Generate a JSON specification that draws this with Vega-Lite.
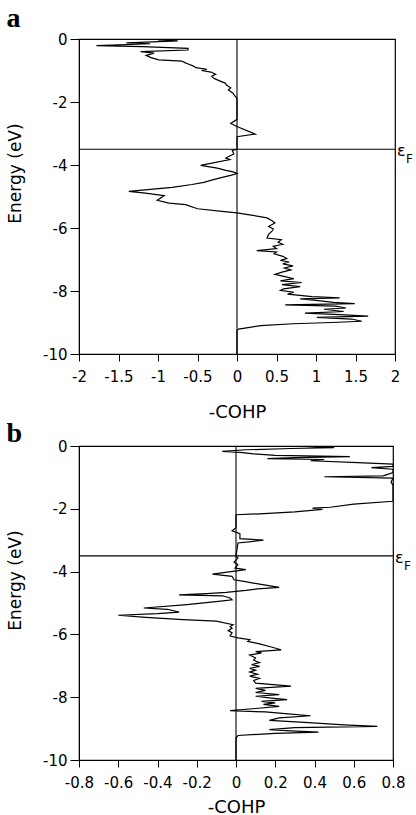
{
  "$schema": "https://vega.github.io/schema/vega-lite/v6.json",
  "padding": {"left": 5, "top": 4, "right": 2, "bottom": 0},
  "background": "white",
  "spacing": -3,
  "config": {
    "view": {"stroke": "black", "strokeWidth": 1.2, "fill": "white"},
    "axis": {
      "grid": false,
      "domainColor": "black",
      "tickColor": "black",
      "labelColor": "black",
      "titleColor": "black",
      "labelFont": "DejaVu Sans",
      "labelFontSize": 15,
      "titleFont": "DejaVu Sans",
      "titleFontWeight": "normal",
      "labelOverlap": false,
      "labelFlush": false,
      "format": ".2~f",
      "labelExpr": "replace(datum.label, '−', '-')"
    },
    "axisX": {"tickSize": 7, "labelPadding": 8, "titleFontSize": 18},
    "axisY": {"tickSize": 9, "labelPadding": 3, "titleFontSize": 17, "titleY": 134},
    "title": {"font": "Liberation Serif", "fontSize": 28, "fontWeight": "bold", "color": "black", "anchor": "start", "frame": "bounds"}
  },
  "datasets": {
    "a": [
      {"E": 0, "c": -0.7}, {"E": -0.03, "c": -1.0}, {"E": -0.06, "c": -0.75}, {"E": -0.12, "c": -1.4},
      {"E": -0.15, "c": -1.1}, {"E": -0.21, "c": -1.78}, {"E": -0.24, "c": -1.2}, {"E": -0.3, "c": -0.62},
      {"E": -0.35, "c": -0.62}, {"E": -0.4, "c": -1.22}, {"E": -0.45, "c": -1.05}, {"E": -0.52, "c": -1.15},
      {"E": -0.59, "c": -1.09}, {"E": -0.66, "c": -0.99}, {"E": -0.7, "c": -0.7}, {"E": -0.75, "c": -0.66},
      {"E": -0.8, "c": -0.61}, {"E": -0.86, "c": -0.55}, {"E": -0.91, "c": -0.52}, {"E": -0.96, "c": -0.38},
      {"E": -1.0, "c": -0.45}, {"E": -1.05, "c": -0.33}, {"E": -1.12, "c": -0.27}, {"E": -1.18, "c": -0.32},
      {"E": -1.25, "c": -0.29}, {"E": -1.33, "c": -0.22}, {"E": -1.4, "c": -0.15}, {"E": -1.47, "c": -0.13},
      {"E": -1.55, "c": -0.08}, {"E": -1.62, "c": -0.11}, {"E": -1.72, "c": -0.05}, {"E": -1.8, "c": -0.03},
      {"E": -1.88, "c": 0}, {"E": -2.0, "c": 0}, {"E": -2.3, "c": 0}, {"E": -2.55, "c": 0},
      {"E": -2.68, "c": -0.08}, {"E": -2.78, "c": 0}, {"E": -3.02, "c": 0.23}, {"E": -3.1, "c": 0},
      {"E": -3.5, "c": 0}, {"E": -3.54, "c": -0.06}, {"E": -3.65, "c": -0.04}, {"E": -3.72, "c": -0.1},
      {"E": -3.78, "c": -0.14}, {"E": -3.83, "c": -0.09}, {"E": -4.01, "c": -0.46}, {"E": -4.1, "c": -0.25},
      {"E": -4.17, "c": -0.14}, {"E": -4.22, "c": -0.05}, {"E": -4.27, "c": 0}, {"E": -4.33, "c": -0.08},
      {"E": -4.4, "c": -0.2}, {"E": -4.47, "c": -0.31}, {"E": -4.55, "c": -0.42}, {"E": -4.62, "c": -0.57},
      {"E": -4.71, "c": -0.82}, {"E": -4.84, "c": -1.37}, {"E": -4.89, "c": -1.16}, {"E": -4.97, "c": -0.92},
      {"E": -5.12, "c": -1.01}, {"E": -5.21, "c": -0.86}, {"E": -5.26, "c": -0.65}, {"E": -5.39, "c": -0.5},
      {"E": -5.47, "c": -0.19}, {"E": -5.52, "c": 0}, {"E": -5.6, "c": 0.2}, {"E": -5.68, "c": 0.38},
      {"E": -5.76, "c": 0.44}, {"E": -5.84, "c": 0.48}, {"E": -5.95, "c": 0.4}, {"E": -6.03, "c": 0.46},
      {"E": -6.11, "c": 0.44}, {"E": -6.2, "c": 0.4}, {"E": -6.32, "c": 0.38}, {"E": -6.37, "c": 0.56},
      {"E": -6.45, "c": 0.52}, {"E": -6.52, "c": 0.58}, {"E": -6.58, "c": 0.46}, {"E": -6.65, "c": 0.5},
      {"E": -6.72, "c": 0.25}, {"E": -6.76, "c": 0.5}, {"E": -6.82, "c": 0.47}, {"E": -6.9, "c": 0.58},
      {"E": -6.97, "c": 0.63}, {"E": -7.03, "c": 0.55}, {"E": -7.08, "c": 0.66}, {"E": -7.14, "c": 0.58},
      {"E": -7.2, "c": 0.71}, {"E": -7.27, "c": 0.6}, {"E": -7.33, "c": 0.68}, {"E": -7.4, "c": 0.57},
      {"E": -7.47, "c": 0.48}, {"E": -7.55, "c": 0.62}, {"E": -7.61, "c": 0.72}, {"E": -7.68, "c": 0.55},
      {"E": -7.73, "c": 0.82}, {"E": -7.8, "c": 0.57}, {"E": -7.86, "c": 0.8}, {"E": -7.93, "c": 0.59},
      {"E": -7.98, "c": 0.55}, {"E": -8.04, "c": 0.72}, {"E": -8.1, "c": 0.64}, {"E": -8.18, "c": 0.95},
      {"E": -8.22, "c": 1.3}, {"E": -8.25, "c": 0.8}, {"E": -8.3, "c": 1.0}, {"E": -8.36, "c": 1.22},
      {"E": -8.4, "c": 1.49}, {"E": -8.44, "c": 0.61}, {"E": -8.48, "c": 1.25}, {"E": -8.54, "c": 1.38},
      {"E": -8.58, "c": 1.1}, {"E": -8.65, "c": 1.35}, {"E": -8.7, "c": 0.86}, {"E": -8.75, "c": 1.3},
      {"E": -8.8, "c": 1.66}, {"E": -8.84, "c": 1.01}, {"E": -8.89, "c": 1.45}, {"E": -8.96, "c": 1.58},
      {"E": -9.0, "c": 1.2}, {"E": -9.04, "c": 0.71}, {"E": -9.1, "c": 0.3}, {"E": -9.21, "c": 0.02},
      {"E": -9.25, "c": 0}, {"E": -10, "c": 0}
    ],
    "b": [
      {"E": 0, "c": 0.3}, {"E": -0.05, "c": 0.5}, {"E": -0.08, "c": 0.28}, {"E": -0.12, "c": 0.05},
      {"E": -0.17, "c": -0.07}, {"E": -0.2, "c": 0.02}, {"E": -0.25, "c": 0.09}, {"E": -0.3, "c": 0.2},
      {"E": -0.34, "c": 0.58}, {"E": -0.37, "c": 0.3}, {"E": -0.4, "c": 0.16}, {"E": -0.43, "c": 0.45},
      {"E": -0.47, "c": 0.38}, {"E": -0.53, "c": 0.62}, {"E": -0.58, "c": 0.8}, {"E": -0.65, "c": 0.8},
      {"E": -0.69, "c": 0.69}, {"E": -0.74, "c": 0.8}, {"E": -0.85, "c": 0.8}, {"E": -0.95, "c": 0.75},
      {"E": -0.98, "c": 0.45}, {"E": -1.02, "c": 0.8}, {"E": -1.15, "c": 0.79}, {"E": -1.25, "c": 0.8},
      {"E": -1.76, "c": 0.8}, {"E": -1.85, "c": 0.6}, {"E": -1.95, "c": 0.48}, {"E": -1.98, "c": 0.39},
      {"E": -2.02, "c": 0.44}, {"E": -2.1, "c": 0.3}, {"E": -2.16, "c": 0.12}, {"E": -2.19, "c": 0},
      {"E": -2.6, "c": 0}, {"E": -2.7, "c": -0.02}, {"E": -2.79, "c": 0.02}, {"E": -2.95, "c": 0.02},
      {"E": -3.0, "c": 0.14}, {"E": -3.09, "c": 0.01}, {"E": -3.5, "c": 0}, {"E": -3.57, "c": 0.01},
      {"E": -3.7, "c": -0.01}, {"E": -3.78, "c": 0.01}, {"E": -3.89, "c": -0.005}, {"E": -3.94, "c": 0.05},
      {"E": -4.08, "c": -0.12}, {"E": -4.15, "c": -0.02}, {"E": -4.26, "c": -0.01}, {"E": -4.31, "c": 0.04},
      {"E": -4.4, "c": 0.12}, {"E": -4.5, "c": 0.22}, {"E": -4.55, "c": 0.11}, {"E": -4.6, "c": 0.05},
      {"E": -4.66, "c": -0.05}, {"E": -4.7, "c": -0.15}, {"E": -4.74, "c": -0.29}, {"E": -4.77, "c": -0.07},
      {"E": -4.84, "c": -0.03}, {"E": -4.9, "c": -0.02}, {"E": -4.95, "c": -0.09}, {"E": -5.05, "c": -0.25},
      {"E": -5.16, "c": -0.47}, {"E": -5.2, "c": -0.35}, {"E": -5.29, "c": -0.29}, {"E": -5.34, "c": -0.4},
      {"E": -5.39, "c": -0.6}, {"E": -5.46, "c": -0.46}, {"E": -5.53, "c": -0.27}, {"E": -5.58, "c": -0.1},
      {"E": -5.69, "c": -0.015}, {"E": -5.75, "c": -0.03}, {"E": -5.8, "c": -0.02}, {"E": -5.88, "c": -0.04},
      {"E": -5.95, "c": -0.02}, {"E": -6.05, "c": -0.03}, {"E": -6.11, "c": 0.01}, {"E": -6.17, "c": 0.07},
      {"E": -6.22, "c": 0.06}, {"E": -6.3, "c": 0.12}, {"E": -6.4, "c": 0.18}, {"E": -6.49, "c": 0.23},
      {"E": -6.55, "c": 0.1}, {"E": -6.59, "c": 0.13}, {"E": -6.66, "c": 0.07}, {"E": -6.75, "c": 0.1},
      {"E": -6.82, "c": 0.09}, {"E": -6.9, "c": 0.12}, {"E": -6.96, "c": 0.08}, {"E": -7.02, "c": 0.12},
      {"E": -7.08, "c": 0.07}, {"E": -7.14, "c": 0.1}, {"E": -7.2, "c": 0.07}, {"E": -7.27, "c": 0.11},
      {"E": -7.33, "c": 0.07}, {"E": -7.4, "c": 0.12}, {"E": -7.47, "c": 0.09}, {"E": -7.55, "c": 0.1},
      {"E": -7.65, "c": 0.28}, {"E": -7.72, "c": 0.1}, {"E": -7.78, "c": 0.15}, {"E": -7.85, "c": 0.1},
      {"E": -7.92, "c": 0.22}, {"E": -7.97, "c": 0.1}, {"E": -8.03, "c": 0.18}, {"E": -8.08, "c": 0.26},
      {"E": -8.13, "c": 0.13}, {"E": -8.18, "c": 0.2}, {"E": -8.23, "c": 0.14}, {"E": -8.29, "c": 0.22},
      {"E": -8.36, "c": 0.1}, {"E": -8.43, "c": -0.03}, {"E": -8.47, "c": 0.15}, {"E": -8.52, "c": 0.25},
      {"E": -8.59, "c": 0.38}, {"E": -8.66, "c": 0.22}, {"E": -8.74, "c": 0.17}, {"E": -8.8, "c": 0.35},
      {"E": -8.88, "c": 0.55}, {"E": -8.93, "c": 0.72}, {"E": -8.97, "c": 0.3}, {"E": -9.03, "c": 0.17},
      {"E": -9.07, "c": 0.28}, {"E": -9.11, "c": 0.42}, {"E": -9.15, "c": 0.2}, {"E": -9.22, "c": 0.01},
      {"E": -9.3, "c": 0}, {"E": -10, "c": 0}
    ],
    "refa": [{"E": -3.5, "c": 0, "xmax": 2, "eps": "ε", "sub": "F"}],
    "refb": [{"E": -3.5, "c": 0, "xmax": 0.8, "eps": "ε", "sub": "F"}]
  },
  "vconcat": [
    {
      "width": 316,
      "height": 315,
      "title": {"text": "a", "offset": -1},
      "encoding": {
        "x": {"type": "quantitative", "scale": {"domain": [-2, 2], "nice": false, "zero": false},
              "axis": {"title": "-COHP", "values": [-2, -1.5, -1, -0.5, 0, 0.5, 1, 1.5, 2], "titlePadding": 19}},
        "y": {"type": "quantitative", "scale": {"domain": [-10, 0], "nice": false, "zero": false},
              "axis": {"title": "Energy (eV)", "values": [-10, -8, -6, -4, -2, 0], "titlePadding": 18}}
      },
      "layer": [
        {
          "data": {"name": "a"},
          "mark": {"type": "line", "color": "black", "strokeWidth": 1.2, "clip": true},
          "encoding": {
            "x": {"field": "c", "type": "quantitative"},
            "y": {"field": "E", "type": "quantitative"},
            "order": {"field": "E", "type": "quantitative", "sort": "descending"}
          }
        },
        {"data": {"name": "refa"}, "mark": {"type": "rule", "color": "black", "strokeWidth": 1.1}, "encoding": {"y": {"field": "E", "type": "quantitative"}}},
        {"data": {"name": "refa"}, "mark": {"type": "rule", "color": "black", "strokeWidth": 1.1}, "encoding": {"x": {"field": "c", "type": "quantitative"}}},
        {"data": {"name": "refa"}, "mark": {"type": "text", "align": "left", "baseline": "alphabetic", "dx": 2, "dy": 7, "fontSize": 16, "font": "DejaVu Sans", "color": "black"},
         "encoding": {"x": {"field": "xmax", "type": "quantitative"}, "y": {"field": "E", "type": "quantitative"}, "text": {"field": "eps"}}},
        {"data": {"name": "refa"}, "mark": {"type": "text", "align": "left", "baseline": "alphabetic", "dx": 11, "dy": 14, "fontSize": 12, "font": "DejaVu Sans", "color": "black"},
         "encoding": {"x": {"field": "xmax", "type": "quantitative"}, "y": {"field": "E", "type": "quantitative"}, "text": {"field": "sub"}}}
      ]
    },
    {
      "width": 314,
      "height": 314,
      "title": {"text": "b", "offset": -9},
      "encoding": {
        "x": {"type": "quantitative", "scale": {"domain": [-0.8, 0.8], "nice": false, "zero": false},
              "axis": {"title": "-COHP", "values": [-0.8, -0.6, -0.4, -0.2, 0, 0.2, 0.4, 0.6, 0.8], "titlePadding": 8}},
        "y": {"type": "quantitative", "scale": {"domain": [-10, 0], "nice": false, "zero": false},
              "axis": {"title": "Energy (eV)", "values": [-10, -8, -6, -4, -2, 0], "titlePadding": 18}}
      },
      "layer": [
        {
          "data": {"name": "b"},
          "mark": {"type": "line", "color": "black", "strokeWidth": 1.2, "clip": true},
          "encoding": {
            "x": {"field": "c", "type": "quantitative"},
            "y": {"field": "E", "type": "quantitative"},
            "order": {"field": "E", "type": "quantitative", "sort": "descending"}
          }
        },
        {"data": {"name": "refb"}, "mark": {"type": "rule", "color": "black", "strokeWidth": 1.1}, "encoding": {"y": {"field": "E", "type": "quantitative"}}},
        {"data": {"name": "refb"}, "mark": {"type": "rule", "color": "black", "strokeWidth": 1.1}, "encoding": {"x": {"field": "c", "type": "quantitative"}}},
        {"data": {"name": "refb"}, "mark": {"type": "text", "align": "left", "baseline": "alphabetic", "dx": 2, "dy": 7, "fontSize": 16, "font": "DejaVu Sans", "color": "black"},
         "encoding": {"x": {"field": "xmax", "type": "quantitative"}, "y": {"field": "E", "type": "quantitative"}, "text": {"field": "eps"}}},
        {"data": {"name": "refb"}, "mark": {"type": "text", "align": "left", "baseline": "alphabetic", "dx": 11, "dy": 14, "fontSize": 12, "font": "DejaVu Sans", "color": "black"},
         "encoding": {"x": {"field": "xmax", "type": "quantitative"}, "y": {"field": "E", "type": "quantitative"}, "text": {"field": "sub"}}}
      ]
    }
  ]
}
